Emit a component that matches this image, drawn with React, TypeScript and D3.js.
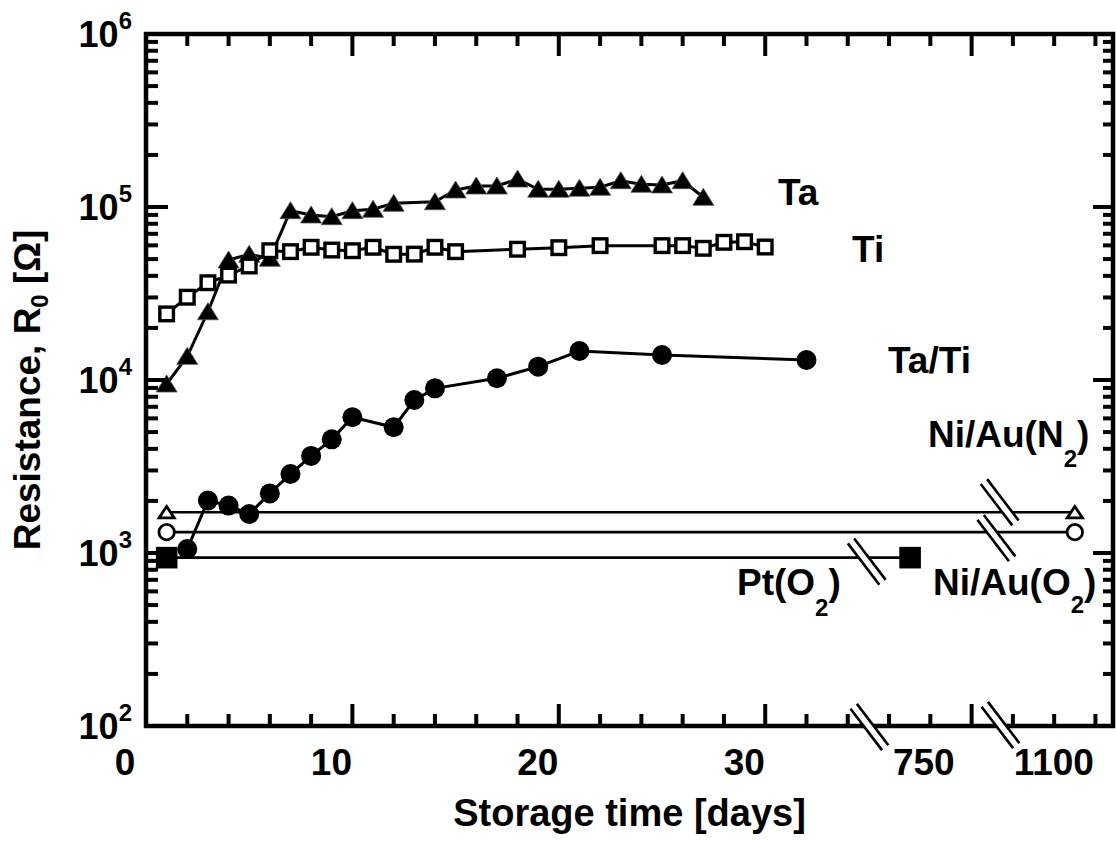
import * as d3 from "d3";
import React from "react";

// storage time in days, resistance R0 in ohm
const taDays = [1, 2, 3, 4, 5, 6, 7, 8, 9, 10, 11, 12, 14, 15, 16, 17, 18, 19, 20, 21, 22, 23, 24, 25, 26, 27];
const taValues = [9480, 13700, 24800, 49400, 53300, 50500, 95200, 89900, 87900, 95200, 97000, 105000, 107300, 125400, 132200, 132200, 145100, 126600, 126600, 128300, 130000, 141900, 135300, 134100, 141900, 113800];

const tiDays = [1, 2, 3, 4, 5, 6, 7, 8, 9, 10, 11, 12, 13, 14, 15, 18, 20, 22, 25, 26, 27, 28, 29, 30];
const tiValues = [24100, 30100, 36500, 40400, 45600, 55900, 55200, 58500, 56400, 55900, 58500, 53300, 53400, 58500, 55200, 57000, 58200, 59800, 59800, 59800, 57700, 62500, 63000, 58700];

const taTiDays = [2, 3, 4, 5, 6, 7, 8, 9, 10, 12, 13, 14, 17, 19, 21, 25, 32];
const taTiValues = [1055, 2010, 1880, 1680, 2210, 2860, 3640, 4540, 6090, 5330, 7660, 8950, 10230, 11940, 14710, 13950, 13050];

const niAuN2Days = [1, 1100];
const niAuN2Values = [1720, 1720];
const niAuO2Days = [1, 1100];
const niAuO2Values = [1320, 1320];
const ptO2Days = [1, 708];
const ptO2Values = [940, 940];

const xTickLabels = [0, 10, 20, 30, 750, 1100];
const yTickLabels = [2, 3, 4, 5, 6]; // exponents

const W = 1116;
const H = 841;
const left = 146;
const right = 1113;
const top = 34;
const bottom = 726;
const font = "'Liberation Sans', Arial, sans-serif";

// axis units: the frame is drawn as a continuous 2-day tick axis
const uScale = d3.scaleLinear().domain([0, 46.85]).range([left, right]);
// broken time axis for the data
const xScale = d3
  .scaleLinear()
  .domain([0, 35, 700, 800, 1050, 1150])
  .range([0, 35, 36.7, 40.7, 43, 47].map((u) => uScale(u)));
const yScale = d3.scaleLog().domain([100, 1e6]).range([bottom, top]);

const line = d3
  .line<[number, number]>()
  .x((d) => xScale(d[0]))
  .y((d) => yScale(d[1]));

const zip = (a: number[], b: number[]) => a.map((v, i) => [v, b[i]] as [number, number]);

const BreakMark = ({ cx, cy }: { cx: number; cy: number }) => {
  const L = 52;
  const g = 8;
  return (
    <g transform={`translate(${cx},${cy}) rotate(52.7)`}>
      <rect x={-L / 2} y={-g / 2} width={L} height={g} fill="#fff" />
      <line x1={-L / 2} x2={L / 2} y1={-g / 2} y2={-g / 2} stroke="#000" strokeWidth={2.6} />
      <line x1={-L / 2} x2={L / 2} y1={g / 2} y2={g / 2} stroke="#000" strokeWidth={2.6} />
    </g>
  );
};

export default function App() {
  const xTicks = d3.range(2, 47, 2);
  const yTicks: { v: number; major: boolean }[] = [];
  for (let k = 2; k < 6; k++) {
    for (let m = 1; m < 10; m++) yTicks.push({ v: m * 10 ** k, major: m === 1 });
  }
  yTicks.push({ v: 1e6, major: true });

  const ta = zip(taDays, taValues);
  const ti = zip(tiDays, tiValues);
  const taTi = zip(taTiDays, taTiValues);
  const n2 = zip(niAuN2Days, niAuN2Values);
  const o2 = zip(niAuO2Days, niAuO2Values);
  const pt = zip(ptO2Days, ptO2Values);

  return (
    <svg
      width={W}
      height={H}
      style={{ position: "absolute", left: 0, top: 0, background: "#fff" }}
      fontFamily={font}
      fontWeight="bold"
    >
      <rect width={W} height={H} fill="#fff" />

      {/* horizontal reference lines */}
      <path d={line(n2) as string} fill="none" stroke="#000" strokeWidth={2.7} />
      <path d={line(o2) as string} fill="none" stroke="#000" strokeWidth={2.7} />
      <path d={line(pt) as string} fill="none" stroke="#000" strokeWidth={2.7} />
      <BreakMark cx={uScale(34.92)} cy={yScale(ptO2Values[0]) + 4} />
      <BreakMark cx={uScale(41.36)} cy={yScale(niAuN2Values[0]) - 10} />
      <BreakMark cx={uScale(41.2)} cy={yScale(niAuO2Values[0]) + 6} />

      {n2.map((d, i) => (
        <path
          key={"n2" + i}
          transform={`translate(${xScale(d[0])},${yScale(d[1])})`}
          d="M0,-5.8L7.6,5.6L-7.6,5.6Z"
          fill="#fff"
          stroke="#000"
          strokeWidth={2.8}
        />
      ))}
      {o2.map((d, i) => (
        <circle key={"o2" + i} cx={xScale(d[0])} cy={yScale(d[1])} r={7.7} fill="#fff" stroke="#000" strokeWidth={2.8} />
      ))}
      {pt.map((d, i) => (
        <rect key={"pt" + i} x={xScale(d[0]) - 10.8} y={yScale(d[1]) - 10.8} width={21.6} height={21.6} fill="#000" />
      ))}

      {/* Ta/Ti */}
      <path d={line(taTi) as string} fill="none" stroke="#000" strokeWidth={3} />
      {taTi.map((d, i) => (
        <circle key={"tt" + i} cx={xScale(d[0])} cy={yScale(d[1])} r={10} fill="#000" />
      ))}

      {/* Ta */}
      <path d={line(ta) as string} fill="none" stroke="#000" strokeWidth={3} />
      {ta.map((d, i) => (
        <path
          key={"ta" + i}
          transform={`translate(${xScale(d[0])},${yScale(d[1])})`}
          d="M0,-9L10.5,8L-10.5,8Z"
          fill="#000"
          stroke="#555"
          strokeWidth={0.8}
        />
      ))}

      {/* Ti */}
      <path d={line(ti) as string} fill="none" stroke="#000" strokeWidth={3} />
      {ti.map((d, i) => (
        <rect
          key={"ti" + i}
          x={xScale(d[0]) - 6.8}
          y={yScale(d[1]) - 6.8}
          width={13.6}
          height={13.6}
          fill="#fff"
          stroke="#000"
          strokeWidth={3.4}
        />
      ))}

      {/* frame and ticks */}
      <g stroke="#000" strokeWidth={4}>
        {xTicks.map((u) => {
          const len = u % 10 === 0 ? 22 : 12;
          return (
            <g key={"xt" + u}>
              <line x1={uScale(u)} x2={uScale(u)} y1={bottom} y2={bottom - len} />
              <line x1={uScale(u)} x2={uScale(u)} y1={top} y2={top + len} />
            </g>
          );
        })}
        {yTicks.map((t, i) => (
          <g key={"yt" + i}>
            <line x1={left} x2={left + (t.major ? 22 : 12)} y1={yScale(t.v)} y2={yScale(t.v)} />
            <line x1={right} x2={right - (t.major ? 20 : 10)} y1={yScale(t.v)} y2={yScale(t.v)} />
          </g>
        ))}
      </g>
      <rect x={left} y={top} width={right - left} height={bottom - top} fill="none" stroke="#000" strokeWidth={4.5} />
      <BreakMark cx={uScale(35.05)} cy={bottom + 1} />
      <BreakMark cx={uScale(41.4)} cy={bottom - 1} />

      {/* x tick labels */}
      {xTickLabels.map((v) => (
        <text key={"xl" + v} x={xScale(v) - 21} y={775} textAnchor="middle" fontSize={37}>
          {v}
        </text>
      ))}

      {/* y tick labels */}
      {yTickLabels.map((k) => (
        <text key={"yl" + k} x={132} y={yScale(10 ** k) + 13} textAnchor="end" fontSize={36}>
          10
          <tspan dy={-18} fontSize={24}>
            {k}
          </tspan>
        </text>
      ))}

      {/* axis titles */}
      <text x={(left + right) / 2} y={826} textAnchor="middle" fontSize={38}>
        Storage time [days]
      </text>
      <text transform="translate(40,390) rotate(-90)" textAnchor="middle" fontSize={37}>
        Resistance, R
        <tspan dy={8} fontSize={24}>
          0
        </tspan>
        <tspan dy={-8}> [Ω]</tspan>
      </text>

      {/* series labels */}
      <g fontSize={37}>
        <text x={778} y={205}>Ta</text>
        <text x={852} y={262}>Ti</text>
        <text x={888} y={373}>Ta/Ti</text>
        <text x={928} y={447}>
          Ni/Au(N
          <tspan dy={20} fontSize={24}>2</tspan>
          <tspan dy={-20}>)</tspan>
        </text>
        <text x={933} y={595}>
          Ni/Au(O
          <tspan dy={18} fontSize={24}>2</tspan>
          <tspan dy={-18}>)</tspan>
        </text>
        <text x={737} y={595}>
          Pt(O
          <tspan dy={21} fontSize={24}>2</tspan>
          <tspan dy={-21}>)</tspan>
        </text>
      </g>
    </svg>
  );
}
